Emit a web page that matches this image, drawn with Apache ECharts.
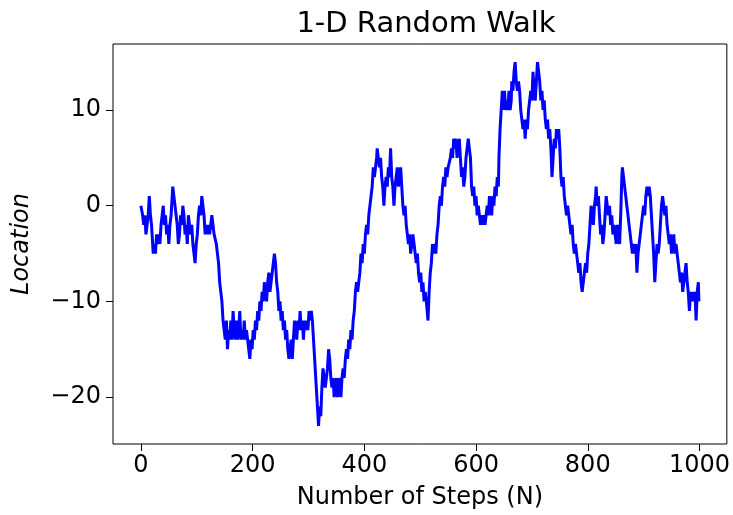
<!DOCTYPE html>
<html>
<head>
<meta charset="utf-8">
<script src="https://cdn.jsdelivr.net/npm/echarts@6/dist/echarts.min.js"></script>
<style>
  html, body { margin: 0; padding: 0; background: #fff; }
  #chart { width: 733px; height: 515px; }
</style>
</head>
<body>
<div id="chart"></div>
<script>
'use strict';

// step numbers and walk positions
const steps = [
  0, 3, 5, 7, 9, 11, 13, 15, 17, 19, 22, 24, 26, 28, 30, 32, 34, 36, 38, 40,
  42, 44, 46, 48, 50, 52, 54, 57, 59, 61, 63, 65, 67, 69, 71, 73, 75, 77, 79, 81,
  83, 85, 87, 89, 91, 93, 95, 97, 99, 101, 103, 105, 107, 109, 111, 113, 115, 117, 119, 121,
  123, 125, 127, 129, 131, 133, 135, 137, 139, 141, 143, 145, 147, 149, 151, 153, 155, 157, 159, 161,
  163, 165, 167, 169, 171, 173, 175, 177, 179, 181, 183, 185, 187, 189, 191, 193, 195, 197, 199, 201,
  203, 205, 207, 209, 211, 213, 215, 217, 219, 221, 223, 225, 227, 229, 231, 233, 235, 237, 239, 241,
  243, 245, 247, 249, 251, 253, 255, 257, 259, 261, 263, 265, 267, 269, 271, 273, 275, 277, 279, 281,
  283, 285, 287, 289, 291, 293, 295, 297, 299, 301, 303, 305, 307, 309, 311, 313, 315, 317, 318, 320,
  322, 324, 326, 328, 330, 332, 334, 336, 338, 340, 342, 344, 346, 348, 350, 352, 354, 356, 358, 360,
  362, 364, 366, 368, 370, 372, 374, 376, 378, 380, 382, 384, 386, 388, 390, 392, 394, 396, 398, 400,
  402, 404, 406, 408, 410, 412, 414, 416, 418, 420, 422, 423, 425, 427, 429, 431, 433, 435, 437, 439,
  441, 443, 445, 447, 449, 451, 453, 455, 457, 459, 461, 463, 465, 467, 469, 471, 473, 475, 477, 479,
  481, 483, 485, 487, 489, 491, 493, 495, 497, 499, 501, 503, 505, 507, 509, 511, 514, 516, 518, 520,
  522, 524, 526, 528, 530, 532, 534, 536, 538, 540, 542, 544, 546, 548, 550, 552, 554, 556, 558, 560,
  562, 564, 566, 568, 570, 572, 574, 576, 578, 580, 582, 584, 586, 588, 590, 592, 594, 596, 598, 600,
  602, 604, 606, 608, 610, 612, 614, 616, 618, 620, 622, 624, 626, 628, 630, 632, 634, 636, 638, 640,
  641, 643, 645, 647, 649, 651, 653, 655, 657, 659, 661, 663, 664, 666, 668, 670, 672, 674, 676, 678,
  680, 682, 684, 686, 688, 690, 692, 694, 696, 698, 700, 702, 704, 706, 708, 710, 712, 714, 716, 718,
  720, 722, 724, 726, 728, 730, 732, 734, 736, 738, 740, 742, 744, 746, 748, 750, 752, 754, 756, 758,
  760, 762, 764, 766, 768, 770, 772, 774, 776, 778, 780, 782, 784, 786, 788, 790, 792, 794, 796, 798,
  800, 802, 804, 806, 808, 810, 812, 814, 815, 817, 819, 821, 823, 825, 827, 829, 831, 833, 835, 837,
  839, 841, 843, 845, 847, 849, 851, 853, 855, 857, 859, 861, 862, 864, 866, 868, 870, 872, 874, 876,
  878, 880, 882, 884, 886, 888, 890, 892, 894, 896, 898, 900, 902, 904, 906, 908, 910, 912, 914, 916,
  918, 920, 922, 924, 926, 928, 930, 932, 934, 936, 938, 940, 942, 944, 946, 948, 950, 952, 954, 956,
  958, 960, 962, 964, 966, 968, 970, 972, 974, 976, 978, 980, 982, 984, 986, 988, 990, 992, 994, 996,
  998, 999
];
const locations = [
  0, -1, -2, -1, -3, -2, -1, 1, -1, -2, -5, -4, -5, -3, -4, -3, -4, -2, -1, 0,
  -2, -1, -3, -2, -4, -2, -1, 2, 1, 0, -1, -2, -4, -3, -1, -2, 0, -1, -3, -2,
  -4, -1, -2, -3, -2, -4, -5, -6, -4, -3, -1, 0, -1, 1, 0, -1, -3, -2, -3, -2,
  -3, -2, -1, -2, -3, -3, -4, -5, -6, -8, -9, -10, -12, -13, -14, -12, -15, -13, -14, -12,
  -14, -11, -13, -14, -12, -14, -13, -11, -14, -13, -14, -12, -14, -13, -14, -14, -16, -14, -15, -13,
  -14, -12, -13, -11, -12, -10, -11, -9, -10, -8, -9, -10, -8, -7, -9, -8, -7, -6, -5, -6,
  -8, -9, -11, -10, -12, -11, -13, -12, -14, -13, -15, -16, -15, -14, -16, -14, -12, -13, -14, -12,
  -13, -11, -13, -12, -14, -12, -13, -12, -13, -11, -12, -11, -12, -14, -16, -18, -20, -22, -23, -21,
  -22, -19, -17, -18, -19, -18, -17, -15, -16, -18, -19, -18, -20, -19, -18, -20, -19, -18, -20, -18,
  -17, -18, -16, -15, -16, -14, -15, -13, -14, -12, -11, -9, -8, -9, -8, -7, -5, -6, -4, -5,
  -3, -2, -3, -1, 0, 1, 2, 4, 3, 4, 5, 6, 5, 4, 5, 3, 2, 0, 2, 3,
  2, 4, 3, 6, 3, 2, 0, 2, 3, 4, 2, 3, 4, 2, 0, -1, 0, -2, -3, -4,
  -3, -5, -4, -3, -4, -5, -6, -5, -7, -8, -7, -9, -8, -10, -9, -10, -12, -9, -7, -6,
  -4, -5, -4, -5, -3, -2, 0, 1, 0, 2, 3, 2, 4, 3, 4, 4, 5, 6, 5, 7,
  6, 7, 5, 6, 7, 5, 3, 4, 2, 3, 5, 6, 7, 6, 5, 2, 1, 2, 0, 1,
  -1, 0, -1, -2, -1, -2, -1, -2, -1, 0, -1, 1, 0, -1, 1, 0, 2, 1, 3, 2,
  5, 8, 10, 12, 10, 12, 10, 11, 10, 12, 10, 11, 13, 12, 14, 15, 13, 12, 13, 12,
  10, 9, 8, 9, 7, 9, 8, 10, 11, 12, 11, 14, 12, 11, 13, 15, 14, 13, 11, 12,
  10, 11, 9, 8, 9, 7, 8, 6, 3, 5, 7, 6, 8, 7, 8, 6, 3, 2, 3, 1,
  0, -1, 0, -1, -2, -3, -2, -4, -5, -4, -5, -6, -7, -6, -8, -9, -8, -7, -6, -7,
  -5, -4, -2, 0, -1, -2, 0, 1, 2, 0, 1, -1, -3, -2, -4, -3, -1, 1, 0, -1,
  0, -2, -1, -3, -2, -3, -4, -2, -3, -4, -1, 3, 4, 3, 2, 1, 0, -1, -2, -3,
  -4, -5, -4, -5, -4, -7, -5, -4, -3, -2, -1, 0, -1, 1, 2, 1, 2, 1, -1, -3,
  -5, -8, -6, -4, -5, -4, -2, 0, 1, 0, -1, 0, -2, -3, -4, -3, -5, -4, -3, -5,
  -4, -5, -6, -7, -8, -7, -9, -8, -7, -6, -8, -9, -11, -9, -10, -9, -10, -9, -12, -9,
  -8, -10
];
const xTicks = [0, 200, 400, 600, 800, 1000];
const yTicks = [-20, -10, 0, 10];

const FONT = 'DejaVu Sans';
const walk = steps.map((s, i) => [s, locations[i]]);

function minusSign(v) {
  return v < 0 ? '\u2212' + Math.abs(v) : String(v);
}

const chart = echarts.init(document.getElementById('chart'));
chart.setOption({
  animation: false,
  backgroundColor: '#fff',
  title: {
    text: '1-D Random Walk',
    left: 421,
    top: 5,
    textAlign: 'center',
    textStyle: { fontFamily: FONT, fontSize: 29, fontWeight: 'normal', color: '#000' }
  },
  grid: {
    left: 113, right: 3, top: 44, bottom: 69,
    show: true, borderColor: '#000', borderWidth: 1
  },
  xAxis: {
    type: 'value',
    min: -50, max: 1049,
    name: 'Number of Steps (N)',
    nameLocation: 'middle',
    nameGap: 42,
    nameTextStyle: { fontFamily: FONT, fontSize: 24, color: '#000' },
    axisLine: { show: false, onZero: false },
    axisTick: { show: true, length: 7, customValues: xTicks, lineStyle: { color: '#000' } },
    axisLabel: { customValues: xTicks, fontFamily: FONT, fontSize: 24, color: '#000', margin: 10,
      formatter: v => String(v) },
    splitLine: { show: false }
  },
  yAxis: {
    type: 'value',
    min: -24.9, max: 16.9,
    name: 'Location',
    nameLocation: 'middle',
    nameGap: 79,
    nameTextStyle: { fontFamily: FONT, fontSize: 24, fontStyle: 'italic', color: '#000' },
    axisLine: { show: false, onZero: false },
    axisTick: { show: true, length: 7, customValues: yTicks, lineStyle: { color: '#000' } },
    axisLabel: { customValues: yTicks, fontFamily: FONT, fontSize: 24, color: '#000', margin: 12,
      formatter: minusSign },
    splitLine: { show: false }
  },
  series: [{
    type: 'line',
    data: walk,
    showSymbol: false,
    lineStyle: { color: '#0000ff', width: 3 }
  }]
});
</script>
</body>
</html>
